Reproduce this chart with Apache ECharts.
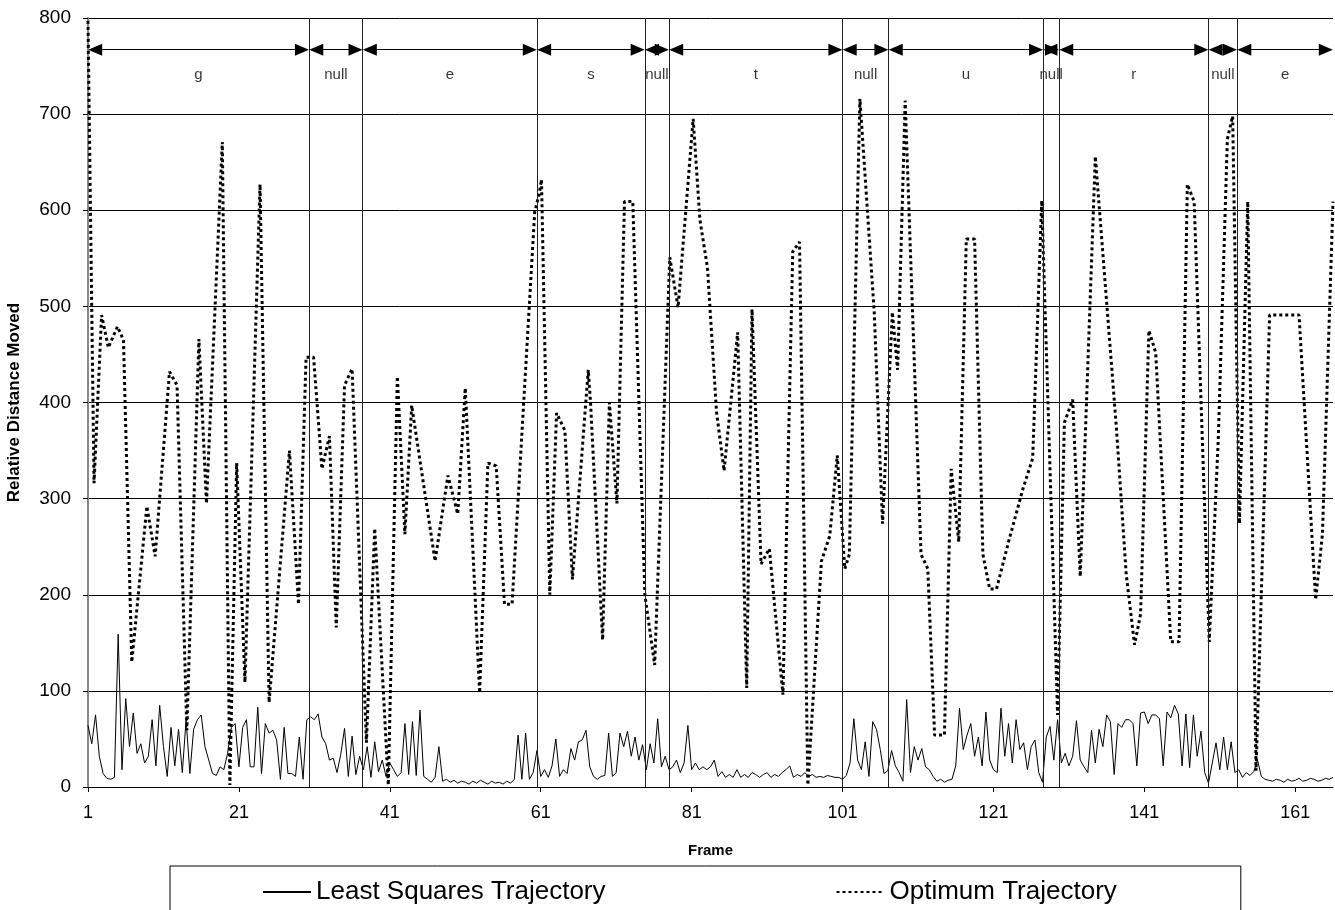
<!DOCTYPE html>
<html>
<head>
<meta charset="utf-8">
<script src="https://cdn.jsdelivr.net/npm/echarts@6/dist/echarts.min.js"></script>
<style>
html, body { margin: 0; padding: 0; background: #fff; }
#main { width: 1335px; height: 910px; }
</style>
</head>
<body>
<div id="main"></div>
<script>
// x tick labels (frames)
var xTicks = [1, 21, 41, 61, 81, 101, 121, 141, 161];

// phoneme segments: boundaries in frames + labels between them
var segBounds = [1, 30.3, 37.4, 60.5, 74.8, 78, 101, 107.1, 127.6, 129.7, 149.5, 153.3, 166];
var segLabels = ["g", "null", "e", "s", "null", "t", "null", "u", "null", "r", "null", "e"];

// least squares trajectory, sampled every half frame starting at frame 1
var lsStart = 1;
var lsStep = 0.5;
var lsValues = [
  64, 45, 75, 32, 14, 9, 8, 10, 159, 18,
  92, 42, 77, 35, 45, 25, 32, 70, 22, 85,
  42, 11, 62, 22, 60, 15, 70, 14, 60, 70,
  75, 42, 28, 14, 12, 21, 18, 35, 62, 66,
  21, 62, 70, 21, 21, 83, 14, 66, 56, 59,
  49, 8, 62, 14, 14, 11, 52, 8, 70, 73,
  70, 76, 52, 45, 28, 30,
  15, 34, 61, 11, 53, 13, 32, 18, 42, 10,
  47, 16, 28, 11, 25, 18, 11, 15, 66, 13,
  68, 12, 80, 11, 8, 5, 10, 42, 6, 8,
  5, 7, 4, 6, 5, 3, 6, 4, 7, 5,
  3, 6, 4, 5, 3, 6, 4, 8, 54, 8,
  56, 8, 15, 38, 11, 18, 10, 22, 50, 11,
  18, 14, 40, 28, 47, 49, 59,
  21, 11, 8, 11, 12, 56, 11, 15, 56, 42,
  58, 32, 52, 28, 44, 18, 45, 25, 71, 21,
  32, 18, 21, 28, 15, 25, 64, 18, 25, 18,
  21, 18, 21, 28, 11, 16, 10, 13, 10, 18,
  10, 13, 10, 15, 13, 10, 13, 15, 10, 13,
  11, 15, 18, 22, 10, 13, 11, 15, 11, 13,
  10, 11, 10, 12, 11, 10,
  10, 8, 12, 25, 71, 28, 18, 47, 11, 68,
  60, 39, 14, 17, 38, 22, 15, 6, 91, 15,
  42, 28, 40, 21, 18, 11, 6, 8, 5, 7,
  8, 22, 82, 39, 54, 66, 32, 52, 22, 78,
  28, 18, 15, 82, 32, 66, 25, 70, 39, 46,
  18, 42, 49, 15, 5, 52, 63, 28, 70, 25,
  35, 22, 32, 69, 28, 21,
  15, 59, 25, 60, 42, 75, 68, 13, 66, 62,
  70, 70, 66, 22, 77, 78, 66, 75, 75, 71,
  22, 78, 72, 85, 76, 22, 76, 20, 75, 32,
  58, 15, 4, 25, 46, 18, 52, 18, 47, 15,
  18, 10, 15, 12, 16, 28, 11, 8, 7, 6,
  8, 7, 5, 8, 6, 7, 9, 6, 7, 9,
  8, 6, 7, 9, 8, 10
];

// optimum trajectory vertices
var optFrames = [
  1.0, 1.8, 2.8, 3.7, 4.9, 5.7, 6.8, 8.8, 9.9, 11.8,
  12.8, 14.1, 15.7, 16.7, 18.8, 19.8, 20.7, 21.8, 23.8, 25.0,
  27.7, 28.9, 29.9, 30.9, 32.0, 33.0, 33.9, 35.0, 36.0, 37.9,
  39.0, 40.8, 42.0, 43.0, 43.9, 47.0, 48.7, 50.0, 51.0, 52.9,
  54.0, 55.1, 56.2, 57.2, 60.2, 60.8, 61.1, 62.2, 63.1, 64.2,
  65.2, 67.3, 67.6, 69.2, 70.1, 71.1, 72.1, 73.2, 74.8, 76.1,
  78.1, 79.2, 81.2, 82.1, 83.1, 84.3, 85.3, 87.1, 88.3, 89.0,
  90.2, 91.3, 93.1, 94.4, 95.3, 96.4, 98.2, 99.3, 100.3, 101.3,
  101.9, 103.3, 105.2, 106.3, 107.6, 108.3, 109.3, 111.4, 112.3, 113.2,
  114.5, 115.4, 116.4, 117.4, 118.5, 119.6, 120.5, 121.4, 123.1, 124.9,
  126.2, 127.4, 129.5, 130.4, 131.5, 132.5, 134.5, 137.3, 138.6, 139.7,
  140.5, 141.6, 142.5, 144.5, 145.6, 146.7, 147.6, 149.6, 150.8, 152.0,
  152.7, 153.6, 154.7, 155.8, 157.6, 161.5, 163.7, 164.6, 166.0
];
var optValues = [
  797, 316, 491, 457, 479, 465, 130, 292, 240, 432,
  418, 59, 466, 295, 671, 2, 337, 109, 627, 88,
  350, 190, 447, 447, 331, 365, 166, 418, 435, 46,
  269, 2, 427, 263, 397, 235, 324, 284, 415, 98,
  337, 334, 190, 190, 598, 617, 632, 200, 389, 371,
  216, 434, 400, 153, 400, 295, 609, 609, 200, 127,
  551, 499, 695, 590, 540, 390, 329, 473, 103, 497,
  232, 248, 96, 557, 567, 2, 235, 261, 345, 227,
  242, 716, 494, 274, 494, 434, 714, 242, 227, 54,
  54, 331, 255, 570, 570, 242, 206, 206, 258, 310,
  342, 610, 75, 379, 403, 219, 656, 373, 221, 148,
  180, 475, 452, 151, 151, 627, 609, 151, 363, 674,
  698, 274, 609, 17, 491, 491, 195, 263, 609
];

var chart = echarts.init(document.getElementById("main"));

var lsData = lsValues.map(function (v, i) { return [lsStart + i * lsStep, v]; });
var optData = optFrames.map(function (f, i) { return [f, optValues[i]]; });

var arrowY = 767;
var labelY = 741;
var arrowPad = 0.95; // half an arrowhead, in frames, so tips touch the boundary

var option = {
  animation: false,
  textStyle: { fontFamily: "Arial, 'Liberation Sans', sans-serif", color: "#000" },
  grid: { left: 88, right: 2, top: 18, bottom: 123, outerBoundsMode: "none" },
  legend: {
    data: ["Least Squares Trajectory", "Optimum Trajectory"],
    left: 170,
    top: 866,
    itemWidth: 48,
    itemHeight: 14,
    itemGap: 230,
    padding: [13, 124, 40, 92],
    borderColor: "#000",
    borderWidth: 1,
    itemStyle: { opacity: 0 },
    textStyle: { fontSize: 26, color: "#000" }
  },
  xAxis: {
    type: "value",
    min: 1,
    max: 166,
    name: "Frame",
    nameLocation: "middle",
    nameGap: 56,
    nameTextStyle: { fontWeight: "bold", fontSize: 15, color: "#000" },
    axisLine: { lineStyle: { color: "#000", width: 1 } },
    axisTick: { show: true, customValues: xTicks, length: 5, lineStyle: { color: "#000" } },
    axisLabel: { customValues: xTicks, fontSize: 18, color: "#000", margin: 17 },
    splitLine: { show: false }
  },
  yAxis: {
    type: "value",
    min: 0,
    max: 800,
    interval: 100,
    name: "Relative Distance Moved",
    nameLocation: "middle",
    nameGap: 65,
    nameTextStyle: { fontWeight: "bold", fontSize: 17, color: "#000" },
    axisLine: { show: true, lineStyle: { color: "#888", width: 2 } },
    axisTick: { show: true, length: 5, lineStyle: { color: "#000" } },
    axisLabel: { fontSize: 19, color: "#000", margin: 17 },
    splitLine: { lineStyle: { color: "#000", width: 1 } }
  },
  series: [
    {
      name: "Least Squares Trajectory",
      type: "line",
      data: lsData,
      symbol: "none",
      lineStyle: { color: "#000", width: 1 },
      itemStyle: { color: "#000" },
      z: 2
    },
    {
      name: "Optimum Trajectory",
      type: "line",
      data: optData,
      symbol: "none",
      lineStyle: { color: "#000", width: 3, type: [3, 3] },
      itemStyle: { color: "#000" },
      z: 3,
      markLine: {
        silent: true,
        symbol: "none",
        label: { show: false },
        lineStyle: { color: "#222", width: 1, type: "solid" },
        data: segBounds.slice(1, -1).map(function (b) { return { xAxis: b }; })
      }
    },
    {
      name: "segments",
      type: "scatter",
      symbolSize: 0,
      silent: true,
      data: segLabels.map(function (t, i) {
        return { value: [(segBounds[i] + segBounds[i + 1]) / 2, labelY], name: t };
      }),
      label: {
        show: true,
        position: "inside",
        formatter: function (p) { return p.name; },
        fontSize: 15,
        color: "#000"
      },
      markLine: {
        silent: true,
        symbol: ["triangle", "triangle"],
        symbolSize: [12, 14],
        label: { show: false },
        lineStyle: { color: "#000", width: 1, type: "solid" },
        itemStyle: { color: "#000" },
        data: segLabels.map(function (t, i) {
          return [
            { coord: [segBounds[i] + arrowPad, arrowY] },
            { coord: [segBounds[i + 1] - arrowPad, arrowY] }
          ];
        })
      }
    }
  ]
};

chart.setOption(option);
</script>
</body>
</html>
